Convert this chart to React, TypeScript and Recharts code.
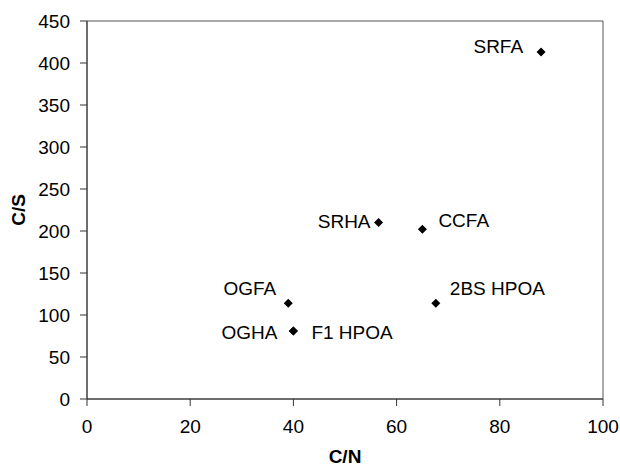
import React from 'react';
import { ScatterChart, Scatter, XAxis, YAxis, ReferenceArea } from 'recharts';

const names = ['SRFA', 'SRHA', 'CCFA', 'OGFA', '2BS HPOA', 'OGHA', 'F1 HPOA'];
const cnValues = [88, 56.5, 65, 39, 67.6, 40, 40];
const csValues = [413, 210, 202, 114, 114, 81, 81];
const xTicks = [0, 20, 40, 60, 80, 100];
const yTicks = [0, 50, 100, 150, 200, 250, 300, 350, 400, 450];

const labelPlacement: Record<string, { dx: number; dy: number; anchor: 'start' | 'end' }> = {
  SRFA: { dx: -18, dy: -6, anchor: 'end' },
  SRHA: { dx: -8, dy: -1, anchor: 'end' },
  CCFA: { dx: 16, dy: -9, anchor: 'start' },
  OGFA: { dx: -12, dy: -15, anchor: 'end' },
  '2BS HPOA': { dx: 14, dy: -15, anchor: 'start' },
  OGHA: { dx: -16, dy: 2, anchor: 'end' },
  'F1 HPOA': { dx: 18, dy: 2, anchor: 'start' },
};

const data = names.map((name, i) => ({ name, cn: cnValues[i], cs: csValues[i] }));

const FONT = "'Liberation Sans', Arial, sans-serif";
const FS = 19;

const DiamondWithLabel = (props: any) => {
  const { cx, cy, payload } = props;
  const p = labelPlacement[payload.name];
  const r = 4.5;
  return (
    <g>
      <path d={`M${cx},${cy - r}L${cx + r},${cy}L${cx},${cy + r}L${cx - r},${cy}Z`} fill="#000" />
      {p && (
        <text
          x={cx + p.dx}
          y={cy + p.dy}
          textAnchor={p.anchor}
          dominantBaseline="central"
          fontSize={FS}
          fontFamily={FONT}
          fill="#000"
        >
          {payload.name}
        </text>
      )}
    </g>
  );
};

const YTitle = (props: any) => {
  const vb = props.viewBox || {};
  const cy = vb.y + vb.height / 2;
  const x = 18;
  return (
    <text
      x={x}
      y={cy}
      transform={`rotate(-90, ${x}, ${cy})`}
      textAnchor="middle"
      dominantBaseline="central"
      fontSize={FS}
      fontWeight="bold"
      fontFamily={FONT}
      fill="#000"
    >
      C/S
    </text>
  );
};

export default function App() {
  return (
    <div style={{ position: 'absolute', left: 0, top: 0, width: 620, height: 468, background: '#fff', fontFamily: FONT }}>
      <ScatterChart width={620} height={468} margin={{ top: 21, right: 17, bottom: 2, left: 0 }}>
        <XAxis
          type="number"
          dataKey="cn"
          domain={[0, 100]}
          ticks={xTicks}
          interval={0}
          height={67}
          tickSize={7}
          tickMargin={14}
          stroke="#333"
          tick={{ fill: '#000', fontSize: FS, fontFamily: FONT }}
          label={{ value: 'C/N', position: 'insideBottom', offset: 3, fill: '#000', fontSize: FS, fontWeight: 'bold', fontFamily: FONT }}
        />
        <YAxis
          type="number"
          dataKey="cs"
          domain={[0, 450]}
          ticks={yTicks}
          interval={0}
          width={87}
          tickSize={7}
          tickMargin={10}
          stroke="#333"
          tick={{ fill: '#000', fontSize: FS, fontFamily: FONT }}
          label={<YTitle />}
        />
        <ReferenceArea x1={0} x2={100} y1={0} y2={450} fill="none" stroke="#555" strokeWidth={1} ifOverflow="extendDomain" />
        <Scatter data={data} shape={<DiamondWithLabel />} isAnimationActive={false} />
      </ScatterChart>
    </div>
  );
}
